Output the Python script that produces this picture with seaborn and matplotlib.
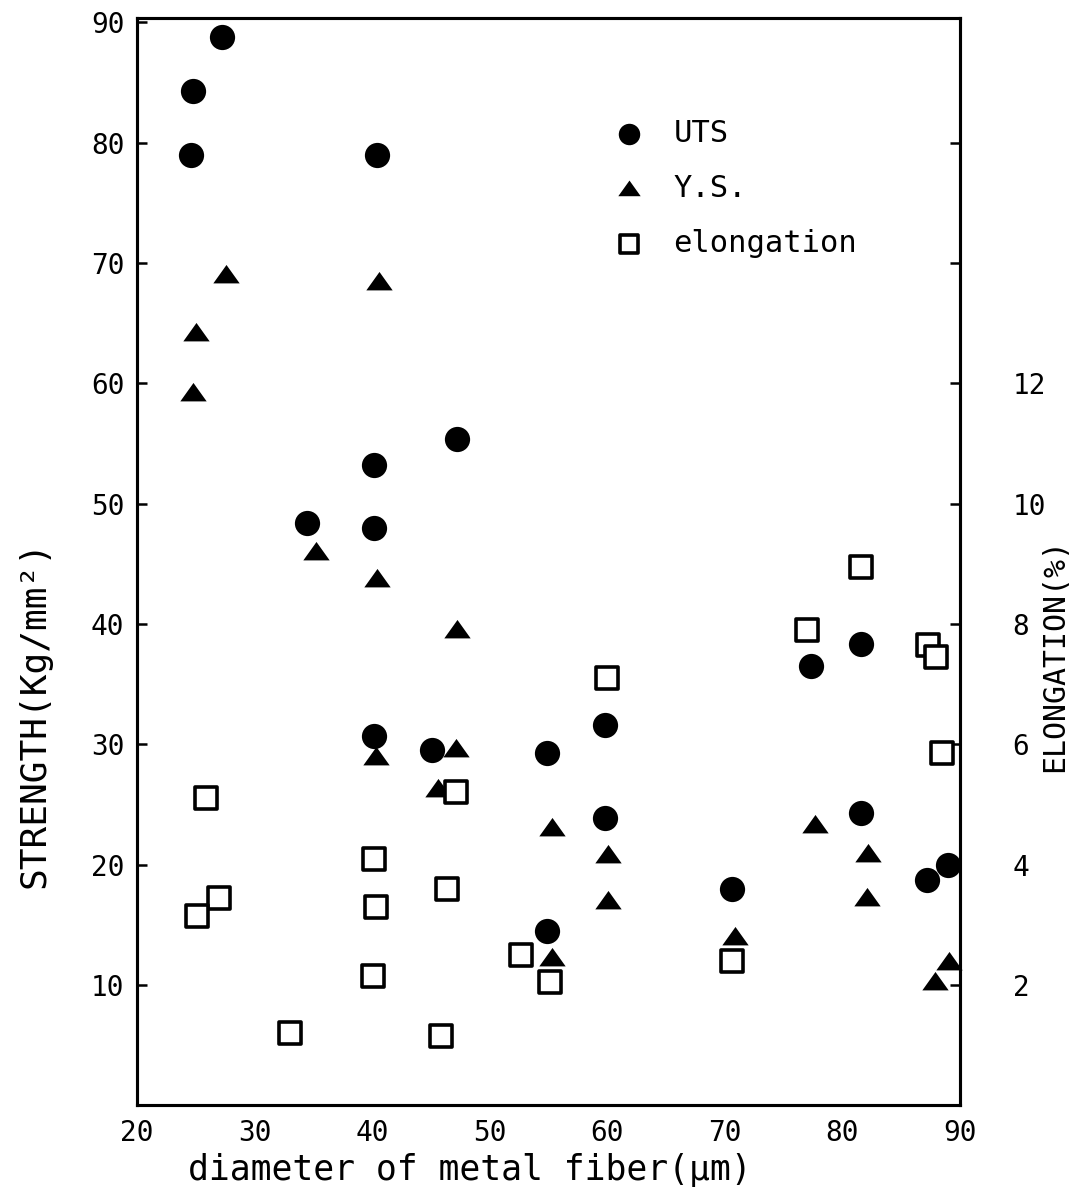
import matplotlib
matplotlib.use('Agg')  # no display
import matplotlib.pyplot as plt
import seaborn as sns

# UTS (ultimate tensile strength), Kg/mm2
uts_diameter = [27.2, 24.8, 24.6, 40.4, 47.2, 40.2, 34.5, 40.2, 40.2, 45.1,
                54.9, 59.8, 59.8, 54.9, 70.6, 77.3, 81.6, 81.6, 87.2, 89.0]
uts_strength = [88.8, 84.3, 79.0, 79.0, 55.4, 53.2, 48.4, 48.0, 30.7, 29.5,
                29.3, 31.6, 23.9, 14.5, 18.0, 36.5, 38.3, 24.3, 18.7, 20.0]

# Y.S. (yield strength), Kg/mm2
ys_diameter = [27.6, 40.6, 25.0, 24.8, 35.2, 40.4, 47.2, 40.3, 47.1, 45.6,
               55.3, 60.1, 60.1, 55.3, 70.9, 77.7, 82.2, 82.1, 89.1, 87.9]
ys_strength = [69.0, 68.4, 64.2, 59.2, 46.0, 43.7, 39.5, 28.9, 29.6, 26.3,
               23.0, 20.8, 17.0, 12.2, 14.0, 23.3, 20.9, 17.2, 11.9, 10.2]

# elongation, %
el_diameter = [25.9, 27.0, 25.1, 33.0, 40.2, 40.3, 40.1, 45.9, 46.4, 47.1,
               52.7, 55.1, 60.0, 70.6, 77.0, 81.6, 87.3, 88.0, 88.5]
el_percent = [5.1, 3.45, 3.15, 1.2, 4.1, 3.3, 2.15, 1.15, 3.6, 5.2,
              2.5, 2.05, 7.1, 2.4, 7.9, 8.95, 7.65, 7.45, 5.85]

x_ticks = [20, 30, 40, 50, 60, 70, 80, 90]
strength_ticks = [10, 20, 30, 40, 50, 60, 70, 80, 90]
elong_ticks = [2, 4, 6, 8, 10, 12, 14, 16]
elong_labels = ['2', '4', '6', '8', '10', '12', '', '']

sns.set_style("white")
plt.rcParams['font.family'] = ['DejaVu Sans Mono', 'DejaVu Sans']
plt.rcParams['text.color'] = 'black'
plt.rcParams['axes.labelcolor'] = 'black'

fig = plt.figure(figsize=(10.87, 12.0), dpi=100)
ax = fig.add_axes([0.126, 0.079, 0.757, 0.906])
ax2 = ax.twinx()

tri = [(-1.0, -0.6), (1.0, -0.6), (0.0, 0.8)]

sns.scatterplot(x=uts_diameter, y=uts_strength, marker='o', s=330, color='black',
                edgecolor='black', linewidth=0, label='UTS', legend=False,
                ax=ax, clip_on=False, zorder=3)
sns.scatterplot(x=ys_diameter, y=ys_strength, marker=tri, s=360, color='black',
                edgecolor='black', linewidth=0, label='Y.S.', legend=False,
                ax=ax, clip_on=False, zorder=3)
sns.scatterplot(x=el_diameter, y=el_percent, marker='s', s=250, color='white',
                edgecolor='black', linewidth=2.6, label='elongation', legend=False,
                ax=ax2, clip_on=False, zorder=3)

y_top = 90.35
ax.set_xlim(20, 90)
ax.set_ylim(0, y_top)
ax2.set_ylim(0, y_top / 5)

ax.set_xticks(x_ticks)
ax.set_yticks(strength_ticks)
ax2.set_yticks(elong_ticks)
ax2.set_yticklabels(elong_labels)

for a in (ax, ax2):
    for sp in a.spines.values():
        sp.set_visible(True)
        sp.set_linewidth(2.2)
        sp.set_color('black')
ax.tick_params(axis='both', direction='in', length=7, width=1.8, labelsize=20,
               colors='black', pad=9)
ax.tick_params(axis='x', pad=10)
ax2.tick_params(axis='y', direction='in', length=7, width=1.8, labelsize=20,
                colors='black', pad=38)

ax.set_xlabel('diameter of metal fiber(\u03bcm)', fontsize=25)
ax.xaxis.set_label_coords(0.405, -0.044)
ax.set_ylabel('STRENGTH(Kg/mm\u00b2)', fontsize=26)
ax.yaxis.set_label_coords(-0.104, 0.36)
ax2.set_ylabel('ELONGATION(%)', fontsize=21.5)
ax2.yaxis.set_label_coords(1.097, 0.414)

# one legend for both axes
h1, l1 = ax.get_legend_handles_labels()
h2, l2 = ax2.get_legend_handles_labels()
ax2.legend(h1 + h2, l1 + l2, loc='upper left', bbox_to_anchor=(0.546, 0.918),
           frameon=False, fontsize=22, handletextpad=0.45, labelspacing=0.85,
           borderaxespad=0, scatterpoints=1, markerscale=0.85)

plt.savefig('out.png', dpi=100)
plt.close()
